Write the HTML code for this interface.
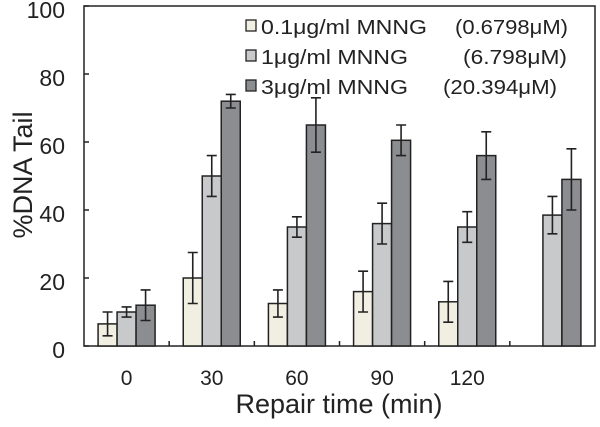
<!DOCTYPE html>
<html><head><meta charset="utf-8"><style>
body{margin:0;background:#fff}
svg{display:block;font-family:"Liberation Sans",sans-serif}
</style></head><body>
<svg id="c" width="600" height="427"></svg>
<script>
const categories=["0","30","60","90","120",""];
const s1=[6.5,20,12.5,16,13,null];
const s1err=[3.5,7.5,4,6,6,null];
const s2=[10,50,35,36,35,38.5];
const s2err=[1.5,6,3,6,4.5,5.5];
const s3=[12,72,65,60.5,56,49];
const s3err=[4.5,2,8,4.5,7,9];
const yTicks=[0,20,40,60,80,100];
const seriesNames=["0.1μg/ml MNNG","1μg/ml MNNG","3μg/ml MNNG"];
const seriesConc=["(0.6798μM)","(6.798μM)","(20.394μM)"];

const NS="http://www.w3.org/2000/svg";
const svg=document.getElementById('c');
const L=84,R=595,T=6,B=346;
const y=v=>B-(v/100)*(B-T);
const gw=(R-L)/categories.length;
const cx=i=>L+gw*(i+0.5);
const bw=19;
const fills=["#f1eee2","#c8c9cb","#8c8d91"];
function mk(t,a,txt){const e=document.createElementNS(NS,t);for(const k in a)e.setAttribute(k,a[k]);if(txt!=null)e.textContent=txt;svg.appendChild(e);return e;}

const box=mk('rect',{x:L,y:T,width:R-L,height:B-T,fill:'none',stroke:'#222','stroke-width':1.5});



yTicks.forEach(v=>{
 const t=mk('line',{x1:L,x2:L+5,y1:y(v),y2:y(v),stroke:'#222','stroke-width':1.5});
 
 
 const l=mk('text',{x:65,y:y(v)+12,'text-anchor':'end','font-size':23,fill:'#222'},v);
 
 
});
for(let i=1;i<categories.length;i++){
 const t=mk('line',{x1:L+gw*i,x2:L+gw*i,y1:B,y2:B-5,stroke:'#222','stroke-width':1.5});
 
 
}
categories.forEach((c,i)=>{
 const l=mk('text',{x:cx(i),y:385,'text-anchor':'middle','font-size':21,fill:'#222'},c);
 
 
});
const series=[[s1,s1err],[s2,s2err],[s3,s3err]];
series.forEach(([vals,errs],si)=>{
 vals.forEach((v,i)=>{
  if(v==null)return;
  const x0=cx(i)+(si-1.5)*bw;
  const r=mk('rect',{x:x0,y:y(v),width:bw,height:B-y(v),fill:fills[si],stroke:'#222','stroke-width':1.5});
  
  
  const xm=x0+bw/2,e=errs[i];
  const g=mk('path',{d:`M${xm},${y(v+e)}V${y(v-e)}M${xm-5},${y(v+e)}H${xm+5}M${xm-5},${y(v-e)}H${xm+5}`,stroke:'#222','stroke-width':1.6,fill:'none'});
  
  
 });
});
const nameW=[166,147,147];
const concX=[455,463,443];
const concW=[113,104,114];
seriesNames.forEach((n,i)=>{
 const yy=20+i*30;
 const r=mk('rect',{x:246,y:yy,width:10,height:11,fill:fills[i],stroke:'#222','stroke-width':1.3});
 
 
 const t=mk('text',{x:261,y:yy+14,'font-size':20,fill:'#222',textLength:nameW[i],lengthAdjust:'spacingAndGlyphs'},n);
 
 
 const c=mk('text',{x:concX[i],y:yy+14,'font-size':20,fill:'#222',textLength:concW[i],lengthAdjust:'spacingAndGlyphs'},seriesConc[i]);
 
 
});
const xt=mk('text',{x:339,y:413,'text-anchor':'middle','font-size':27,fill:'#222'},'Repair time (min)');


const yt=mk('text',{x:0,y:0,'text-anchor':'middle','font-size':27,fill:'#222',transform:'translate(32,175) rotate(-90)'},'%DNA Tail');


</script>
</body></html>
